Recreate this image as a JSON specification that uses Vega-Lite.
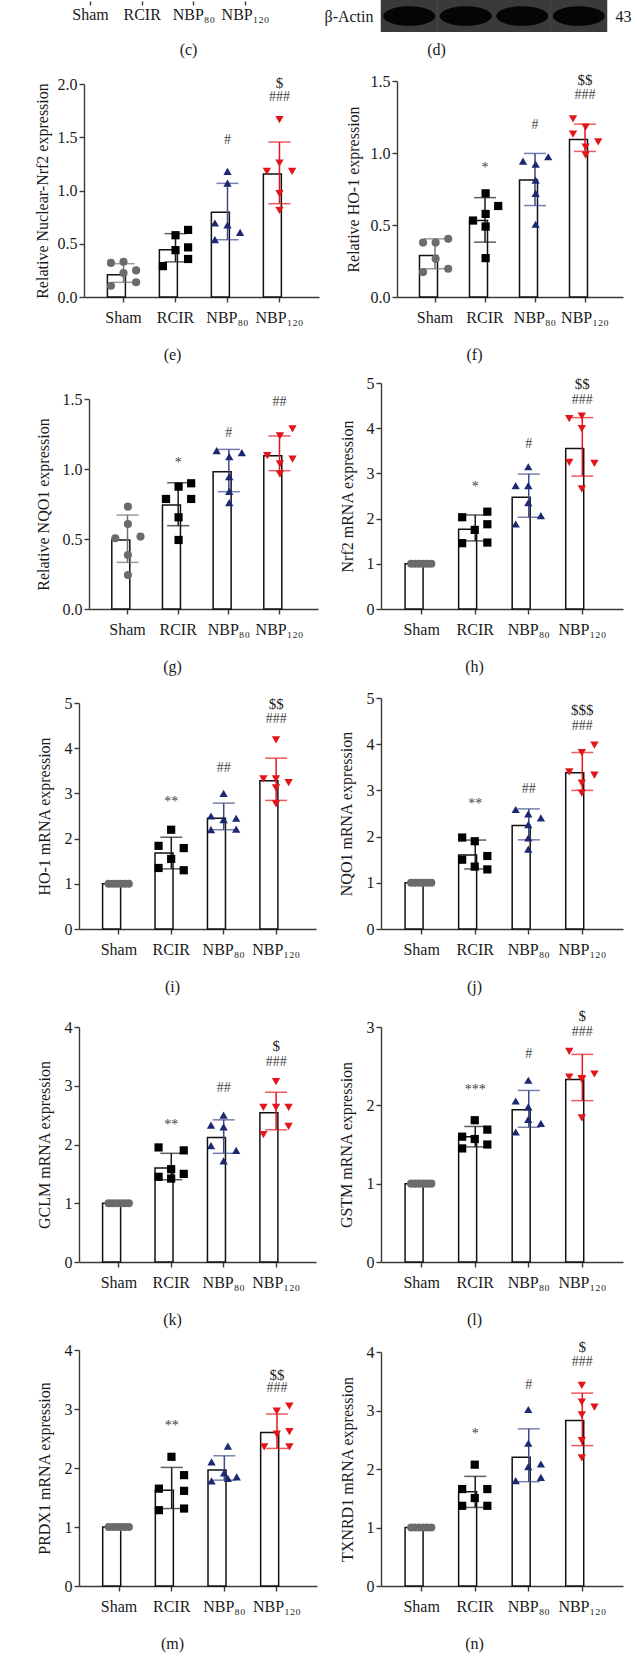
{
"$schema": "https://vega.github.io/schema/vega-lite/v6.json",
"background": "white",
"padding": {"left": 34, "top": 0, "right": 5, "bottom": 5},
"bounds": "flush",
"align": "each",
"columns": 2,
"spacing": {"row": 40, "column": 60},
"datasets": {
"bars": [
{"p":"e","g":"Sham","m":0.21,"lo":0.138,"hi":0.313},{"p":"e","g":"RCIR","m":0.444,"lo":0.33,"hi":0.595},{"p":"e","g":"NBP₈₀","m":0.795,"lo":0.538,"hi":1.067},{"p":"e","g":"NBP₁₂₀","m":1.155,"lo":0.876,"hi":1.455},
{"p":"f","g":"Sham","m":0.288,"lo":0.196,"hi":0.404},{"p":"f","g":"RCIR","m":0.531,"lo":0.381,"hi":0.69},{"p":"f","g":"NBP₈₀","m":0.812,"lo":0.635,"hi":0.997},{"p":"f","g":"NBP₁₂₀","m":1.094,"lo":1.011,"hi":1.2},
{"p":"g","g":"Sham","m":0.493,"lo":0.333,"hi":0.671},{"p":"g","g":"RCIR","m":0.743,"lo":0.595,"hi":0.902},{"p":"g","g":"NBP₈₀","m":0.981,"lo":0.838,"hi":1.14},{"p":"g","g":"NBP₁₂₀","m":1.095,"lo":0.988,"hi":1.236},
{"p":"h","g":"Sham","m":1,"lo":1,"hi":1},{"p":"h","g":"RCIR","m":1.765,"lo":1.507,"hi":2.08},{"p":"h","g":"NBP₈₀","m":2.47,"lo":2.03,"hi":2.985},{"p":"h","g":"NBP₁₂₀","m":3.55,"lo":2.94,"hi":4.235},
{"p":"i","g":"Sham","m":1,"lo":1,"hi":1},{"p":"i","g":"RCIR","m":1.68,"lo":1.33,"hi":2.03},{"p":"i","g":"NBP₈₀","m":2.45,"lo":2.196,"hi":2.785},{"p":"i","g":"NBP₁₂₀","m":3.28,"lo":2.845,"hi":3.78},
{"p":"j","g":"Sham","m":1,"lo":1,"hi":1},{"p":"j","g":"RCIR","m":1.6,"lo":1.3,"hi":1.925},{"p":"j","g":"NBP₈₀","m":2.24,"lo":1.93,"hi":2.6},{"p":"j","g":"NBP₁₂₀","m":3.38,"lo":3.0,"hi":3.82},
{"p":"k","g":"Sham","m":1,"lo":1,"hi":1},{"p":"k","g":"RCIR","m":1.6,"lo":1.4,"hi":1.85},{"p":"k","g":"NBP₈₀","m":2.12,"lo":1.85,"hi":2.42},{"p":"k","g":"NBP₁₂₀","m":2.54,"lo":2.25,"hi":2.89},
{"p":"l","g":"Sham","m":1,"lo":1,"hi":1},{"p":"l","g":"RCIR","m":1.6,"lo":1.47,"hi":1.73},{"p":"l","g":"NBP₈₀","m":1.945,"lo":1.72,"hi":2.19},{"p":"l","g":"NBP₁₂₀","m":2.33,"lo":2.06,"hi":2.65},
{"p":"m","g":"Sham","m":1,"lo":1,"hi":1},{"p":"m","g":"RCIR","m":1.624,"lo":1.313,"hi":2.01},{"p":"m","g":"NBP₈₀","m":1.964,"lo":1.794,"hi":2.207},{"p":"m","g":"NBP₁₂₀","m":2.603,"lo":2.332,"hi":2.915},
{"p":"n","g":"Sham","m":1,"lo":1,"hi":1},{"p":"n","g":"RCIR","m":1.61,"lo":1.343,"hi":1.874},{"p":"n","g":"NBP₈₀","m":2.2,"lo":1.783,"hi":2.686},{"p":"n","g":"NBP₁₂₀","m":2.829,"lo":2.4,"hi":3.297}
],
"pts": [
{"p":"e","g":"Sham","c":-1,"v":0.32},{"p":"e","g":"Sham","c":0,"v":0.33},{"p":"e","g":"Sham","c":0,"v":0.225},{"p":"e","g":"Sham","c":1,"v":0.25},{"p":"e","g":"Sham","c":-1,"v":0.106},{"p":"e","g":"Sham","c":1,"v":0.138},
{"p":"e","g":"RCIR","c":0,"v":0.58},{"p":"e","g":"RCIR","c":1,"v":0.63},{"p":"e","g":"RCIR","c":0,"v":0.44},{"p":"e","g":"RCIR","c":1,"v":0.466},{"p":"e","g":"RCIR","c":-1,"v":0.29},{"p":"e","g":"RCIR","c":1,"v":0.357},
{"p":"e","g":"NBP₈₀","c":0,"v":1.18},{"p":"e","g":"NBP₈₀","c":0,"v":1.07},{"p":"e","g":"NBP₈₀","c":-1,"v":0.695},{"p":"e","g":"NBP₈₀","c":0,"v":0.676},{"p":"e","g":"NBP₈₀","c":1,"v":0.607},{"p":"e","g":"NBP₈₀","c":-1,"v":0.538},
{"p":"e","g":"NBP₁₂₀","c":0,"v":1.665},{"p":"e","g":"NBP₁₂₀","c":-1,"v":1.18},{"p":"e","g":"NBP₁₂₀","c":0,"v":1.258},{"p":"e","g":"NBP₁₂₀","c":1,"v":1.18},{"p":"e","g":"NBP₁₂₀","c":0,"v":0.97},{"p":"e","g":"NBP₁₂₀","c":0,"v":0.814},
{"p":"f","g":"Sham","c":-1,"v":0.378},{"p":"f","g":"Sham","c":0,"v":0.378},{"p":"f","g":"Sham","c":1,"v":0.404},{"p":"f","g":"Sham","c":0,"v":0.265},{"p":"f","g":"Sham","c":-1,"v":0.173},{"p":"f","g":"Sham","c":1,"v":0.196},
{"p":"f","g":"RCIR","c":0,"v":0.72},{"p":"f","g":"RCIR","c":1,"v":0.632},{"p":"f","g":"RCIR","c":-1,"v":0.531},{"p":"f","g":"RCIR","c":0,"v":0.577},{"p":"f","g":"RCIR","c":0,"v":0.489},{"p":"f","g":"RCIR","c":0,"v":0.27},
{"p":"f","g":"NBP₈₀","c":-1,"v":0.944},{"p":"f","g":"NBP₈₀","c":1,"v":0.974},{"p":"f","g":"NBP₈₀","c":0,"v":0.923},{"p":"f","g":"NBP₈₀","c":0,"v":0.812},{"p":"f","g":"NBP₈₀","c":0,"v":0.72},{"p":"f","g":"NBP₈₀","c":0,"v":0.505},
{"p":"f","g":"NBP₁₂₀","c":-1,"v":1.237},{"p":"f","g":"NBP₁₂₀","c":0,"v":1.18},{"p":"f","g":"NBP₁₂₀","c":-1,"v":1.131},{"p":"f","g":"NBP₁₂₀","c":1,"v":1.078},{"p":"f","g":"NBP₁₂₀","c":0,"v":1.04},{"p":"f","g":"NBP₁₂₀","c":0,"v":0.985},
{"p":"g","g":"Sham","c":0,"v":0.731},{"p":"g","g":"Sham","c":0,"v":0.607},{"p":"g","g":"Sham","c":-1,"v":0.505},{"p":"g","g":"Sham","c":1,"v":0.517},{"p":"g","g":"Sham","c":0,"v":0.386},{"p":"g","g":"Sham","c":0,"v":0.243},
{"p":"g","g":"RCIR","c":0,"v":0.874},{"p":"g","g":"RCIR","c":1,"v":0.898},{"p":"g","g":"RCIR","c":-1,"v":0.786},{"p":"g","g":"RCIR","c":1,"v":0.786},{"p":"g","g":"RCIR","c":0,"v":0.655},{"p":"g","g":"RCIR","c":0,"v":0.493},
{"p":"g","g":"NBP₈₀","c":-1,"v":1.131},{"p":"g","g":"NBP₈₀","c":1,"v":1.117},{"p":"g","g":"NBP₈₀","c":0,"v":1.088},{"p":"g","g":"NBP₈₀","c":0,"v":0.945},{"p":"g","g":"NBP₈₀","c":0,"v":0.84},{"p":"g","g":"NBP₈₀","c":0,"v":0.76},
{"p":"g","g":"NBP₁₂₀","c":1,"v":1.286},{"p":"g","g":"NBP₁₂₀","c":0,"v":1.236},{"p":"g","g":"NBP₁₂₀","c":-1,"v":1.095},{"p":"g","g":"NBP₁₂₀","c":1,"v":1.071},{"p":"g","g":"NBP₁₂₀","c":0,"v":1.036},{"p":"g","g":"NBP₁₂₀","c":0,"v":0.964},
{"p":"h","g":"Sham","c":-0.8,"v":1},{"p":"h","g":"Sham","c":-0.48,"v":1},{"p":"h","g":"Sham","c":-0.16,"v":1},{"p":"h","g":"Sham","c":0.16,"v":1},{"p":"h","g":"Sham","c":0.48,"v":1},{"p":"h","g":"Sham","c":0.8,"v":1},
{"p":"h","g":"RCIR","c":-1,"v":2.03},{"p":"h","g":"RCIR","c":1,"v":2.154},{"p":"h","g":"RCIR","c":0,"v":1.75},{"p":"h","g":"RCIR","c":1,"v":1.875},{"p":"h","g":"RCIR","c":-1,"v":1.456},{"p":"h","g":"RCIR","c":1,"v":1.47},
{"p":"h","g":"NBP₈₀","c":0,"v":3.147},{"p":"h","g":"NBP₈₀","c":-1,"v":2.728},{"p":"h","g":"NBP₈₀","c":0,"v":2.728},{"p":"h","g":"NBP₈₀","c":0,"v":2.353},{"p":"h","g":"NBP₈₀","c":1,"v":2.066},{"p":"h","g":"NBP₈₀","c":-1,"v":1.88},
{"p":"h","g":"NBP₁₂₀","c":-1,"v":4.213},{"p":"h","g":"NBP₁₂₀","c":0,"v":4.265},{"p":"h","g":"NBP₁₂₀","c":0,"v":3.99},{"p":"h","g":"NBP₁₂₀","c":-1,"v":3.243},{"p":"h","g":"NBP₁₂₀","c":1,"v":3.22},{"p":"h","g":"NBP₁₂₀","c":0,"v":2.66},
{"p":"i","g":"Sham","c":-0.8,"v":1},{"p":"i","g":"Sham","c":-0.48,"v":1},{"p":"i","g":"Sham","c":-0.16,"v":1},{"p":"i","g":"Sham","c":0.16,"v":1},{"p":"i","g":"Sham","c":0.48,"v":1},{"p":"i","g":"Sham","c":0.8,"v":1},
{"p":"i","g":"RCIR","c":0,"v":2.196},{"p":"i","g":"RCIR","c":-1,"v":1.84},{"p":"i","g":"RCIR","c":1,"v":1.79},{"p":"i","g":"RCIR","c":0,"v":1.55},{"p":"i","g":"RCIR","c":-1,"v":1.35},{"p":"i","g":"RCIR","c":1,"v":1.3},
{"p":"i","g":"NBP₈₀","c":0,"v":3.0},{"p":"i","g":"NBP₈₀","c":-1,"v":2.5},{"p":"i","g":"NBP₈₀","c":1,"v":2.45},{"p":"i","g":"NBP₈₀","c":0,"v":2.42},{"p":"i","g":"NBP₈₀","c":-1,"v":2.2},{"p":"i","g":"NBP₈₀","c":1,"v":2.21},
{"p":"i","g":"NBP₁₂₀","c":0,"v":4.186},{"p":"i","g":"NBP₁₂₀","c":-1,"v":3.32},{"p":"i","g":"NBP₁₂₀","c":0,"v":3.32},{"p":"i","g":"NBP₁₂₀","c":1,"v":3.24},{"p":"i","g":"NBP₁₂₀","c":0,"v":3.12},{"p":"i","g":"NBP₁₂₀","c":0,"v":2.77},
{"p":"j","g":"Sham","c":-0.8,"v":1},{"p":"j","g":"Sham","c":-0.48,"v":1},{"p":"j","g":"Sham","c":-0.16,"v":1},{"p":"j","g":"Sham","c":0.16,"v":1},{"p":"j","g":"Sham","c":0.48,"v":1},{"p":"j","g":"Sham","c":0.8,"v":1},
{"p":"j","g":"RCIR","c":-1,"v":1.98},{"p":"j","g":"RCIR","c":0,"v":1.9},{"p":"j","g":"RCIR","c":1,"v":1.58},{"p":"j","g":"RCIR","c":-1,"v":1.5},{"p":"j","g":"RCIR","c":0,"v":1.35},{"p":"j","g":"RCIR","c":1,"v":1.29},
{"p":"j","g":"NBP₈₀","c":-1,"v":2.587},{"p":"j","g":"NBP₈₀","c":1,"v":2.405},{"p":"j","g":"NBP₈₀","c":0,"v":2.49},{"p":"j","g":"NBP₈₀","c":0,"v":2.26},{"p":"j","g":"NBP₈₀","c":0,"v":1.97},{"p":"j","g":"NBP₈₀","c":0,"v":1.73},
{"p":"j","g":"NBP₁₂₀","c":1,"v":3.98},{"p":"j","g":"NBP₁₂₀","c":0,"v":3.815},{"p":"j","g":"NBP₁₂₀","c":-1,"v":3.4},{"p":"j","g":"NBP₁₂₀","c":1,"v":3.33},{"p":"j","g":"NBP₁₂₀","c":0,"v":3.16},{"p":"j","g":"NBP₁₂₀","c":0,"v":2.94},
{"p":"k","g":"Sham","c":-0.8,"v":1},{"p":"k","g":"Sham","c":-0.48,"v":1},{"p":"k","g":"Sham","c":-0.16,"v":1},{"p":"k","g":"Sham","c":0.16,"v":1},{"p":"k","g":"Sham","c":0.48,"v":1},{"p":"k","g":"Sham","c":0.8,"v":1},
{"p":"k","g":"RCIR","c":-1,"v":1.95},{"p":"k","g":"RCIR","c":1,"v":1.9},{"p":"k","g":"RCIR","c":0,"v":1.58},{"p":"k","g":"RCIR","c":1,"v":1.5},{"p":"k","g":"RCIR","c":-1,"v":1.45},{"p":"k","g":"RCIR","c":0,"v":1.42},
{"p":"k","g":"NBP₈₀","c":0,"v":2.5},{"p":"k","g":"NBP₈₀","c":-1,"v":2.33},{"p":"k","g":"NBP₈₀","c":0,"v":2.3},{"p":"k","g":"NBP₈₀","c":-1,"v":1.98},{"p":"k","g":"NBP₈₀","c":1,"v":1.9},{"p":"k","g":"NBP₈₀","c":0,"v":1.72},
{"p":"k","g":"NBP₁₂₀","c":0,"v":3.07},{"p":"k","g":"NBP₁₂₀","c":-1,"v":2.63},{"p":"k","g":"NBP₁₂₀","c":0,"v":2.63},{"p":"k","g":"NBP₁₂₀","c":1,"v":2.63},{"p":"k","g":"NBP₁₂₀","c":1,"v":2.31},{"p":"k","g":"NBP₁₂₀","c":-1,"v":2.17},
{"p":"l","g":"Sham","c":-0.8,"v":1},{"p":"l","g":"Sham","c":-0.48,"v":1},{"p":"l","g":"Sham","c":-0.16,"v":1},{"p":"l","g":"Sham","c":0.16,"v":1},{"p":"l","g":"Sham","c":0.48,"v":1},{"p":"l","g":"Sham","c":0.8,"v":1},
{"p":"l","g":"RCIR","c":0,"v":1.81},{"p":"l","g":"RCIR","c":1,"v":1.69},{"p":"l","g":"RCIR","c":-1,"v":1.6},{"p":"l","g":"RCIR","c":0,"v":1.57},{"p":"l","g":"RCIR","c":1,"v":1.5},{"p":"l","g":"RCIR","c":-1,"v":1.45},
{"p":"l","g":"NBP₈₀","c":0,"v":2.32},{"p":"l","g":"NBP₈₀","c":-1,"v":2.055},{"p":"l","g":"NBP₈₀","c":0,"v":1.98},{"p":"l","g":"NBP₈₀","c":0,"v":1.82},{"p":"l","g":"NBP₈₀","c":1,"v":1.77},{"p":"l","g":"NBP₈₀","c":-1,"v":1.66},
{"p":"l","g":"NBP₁₂₀","c":-1,"v":2.69},{"p":"l","g":"NBP₁₂₀","c":-1,"v":2.36},{"p":"l","g":"NBP₁₂₀","c":0,"v":2.34},{"p":"l","g":"NBP₁₂₀","c":1,"v":2.4},{"p":"l","g":"NBP₁₂₀","c":0,"v":2.33},{"p":"l","g":"NBP₁₂₀","c":0,"v":1.84},
{"p":"m","g":"Sham","c":-0.8,"v":1},{"p":"m","g":"Sham","c":-0.48,"v":1},{"p":"m","g":"Sham","c":-0.16,"v":1},{"p":"m","g":"Sham","c":0.16,"v":1},{"p":"m","g":"Sham","c":0.48,"v":1},{"p":"m","g":"Sham","c":0.8,"v":1},
{"p":"m","g":"RCIR","c":0,"v":2.19},{"p":"m","g":"RCIR","c":1,"v":1.879},{"p":"m","g":"RCIR","c":-1,"v":1.65},{"p":"m","g":"RCIR","c":1,"v":1.613},{"p":"m","g":"RCIR","c":-1,"v":1.285},{"p":"m","g":"RCIR","c":1,"v":1.313},
{"p":"m","g":"NBP₈₀","c":0.3,"v":2.371},{"p":"m","g":"NBP₈₀","c":-1,"v":2.105},{"p":"m","g":"NBP₈₀","c":0,"v":1.918},{"p":"m","g":"NBP₈₀","c":1,"v":1.85},{"p":"m","g":"NBP₈₀","c":-1,"v":1.783},{"p":"m","g":"NBP₈₀","c":0.3,"v":1.822},
{"p":"m","g":"NBP₁₂₀","c":1,"v":3.05},{"p":"m","g":"NBP₁₂₀","c":0,"v":2.965},{"p":"m","g":"NBP₁₂₀","c":0,"v":2.575},{"p":"m","g":"NBP₁₂₀","c":1,"v":2.615},{"p":"m","g":"NBP₁₂₀","c":-1,"v":2.36},{"p":"m","g":"NBP₁₂₀","c":1,"v":2.36},
{"p":"n","g":"Sham","c":-0.8,"v":1},{"p":"n","g":"Sham","c":-0.48,"v":1},{"p":"n","g":"Sham","c":-0.16,"v":1},{"p":"n","g":"Sham","c":0.16,"v":1},{"p":"n","g":"Sham","c":0.48,"v":1},{"p":"n","g":"Sham","c":0.8,"v":1},
{"p":"n","g":"RCIR","c":0,"v":2.074},{"p":"n","g":"RCIR","c":-1,"v":1.657},{"p":"n","g":"RCIR","c":1,"v":1.657},{"p":"n","g":"RCIR","c":0,"v":1.503},{"p":"n","g":"RCIR","c":-1,"v":1.371},{"p":"n","g":"RCIR","c":1,"v":1.371},
{"p":"n","g":"NBP₈₀","c":0,"v":3.017},{"p":"n","g":"NBP₈₀","c":0,"v":2.44},{"p":"n","g":"NBP₈₀","c":-1,"v":1.8},{"p":"n","g":"NBP₈₀","c":0,"v":2.04},{"p":"n","g":"NBP₈₀","c":1,"v":2.086},{"p":"n","g":"NBP₈₀","c":1,"v":1.857},
{"p":"n","g":"NBP₁₂₀","c":0,"v":3.43},{"p":"n","g":"NBP₁₂₀","c":0,"v":3.143},{"p":"n","g":"NBP₁₂₀","c":1,"v":3.057},{"p":"n","g":"NBP₁₂₀","c":0,"v":2.926},{"p":"n","g":"NBP₁₂₀","c":0,"v":2.486},{"p":"n","g":"NBP₁₂₀","c":0,"v":2.189}
],
"ann": [
{"p":"e","g":"NBP₈₀","y":1.478,"t":"#"},{"p":"e","g":"NBP₁₂₀","y":1.88,"t":"###"},{"p":"e","g":"NBP₁₂₀","y":2.01,"t":"$"},
{"p":"f","g":"RCIR","y":0.893,"t":"*"},{"p":"f","g":"NBP₈₀","y":1.193,"t":"#"},{"p":"f","g":"NBP₁₂₀","y":1.4,"t":"###"},{"p":"f","g":"NBP₁₂₀","y":1.505,"t":"$$"},
{"p":"g","g":"RCIR","y":1.04,"t":"*"},{"p":"g","g":"NBP₈₀","y":1.26,"t":"#"},{"p":"g","g":"NBP₁₂₀","y":1.48,"t":"##"},
{"p":"h","g":"RCIR","y":2.71,"t":"*"},{"p":"h","g":"NBP₈₀","y":3.66,"t":"#"},{"p":"h","g":"NBP₁₂₀","y":4.62,"t":"###"},{"p":"h","g":"NBP₁₂₀","y":4.985,"t":"$$"},
{"p":"i","g":"RCIR","y":2.8,"t":"**"},{"p":"i","g":"NBP₈₀","y":3.56,"t":"##"},{"p":"i","g":"NBP₁₂₀","y":4.65,"t":"###"},{"p":"i","g":"NBP₁₂₀","y":4.98,"t":"$$"},
{"p":"j","g":"RCIR","y":2.7,"t":"**"},{"p":"j","g":"NBP₈₀","y":3.04,"t":"##"},{"p":"j","g":"NBP₁₂₀","y":4.4,"t":"###"},{"p":"j","g":"NBP₁₂₀","y":4.745,"t":"$$$"},
{"p":"k","g":"RCIR","y":2.34,"t":"**"},{"p":"k","g":"NBP₈₀","y":2.97,"t":"##"},{"p":"k","g":"NBP₁₂₀","y":3.41,"t":"###"},{"p":"k","g":"NBP₁₂₀","y":3.67,"t":"$"},
{"p":"l","g":"RCIR","y":2.19,"t":"***"},{"p":"l","g":"NBP₈₀","y":2.66,"t":"#"},{"p":"l","g":"NBP₁₂₀","y":2.94,"t":"###"},{"p":"l","g":"NBP₁₂₀","y":3.14,"t":"$"},
{"p":"m","g":"RCIR","y":2.71,"t":"**"},{"p":"m","g":"NBP₁₂₀","y":3.35,"t":"###"},{"p":"m","g":"NBP₁₂₀","y":3.577,"t":"$$"},
{"p":"n","g":"RCIR","y":2.6,"t":"*"},{"p":"n","g":"NBP₈₀","y":3.43,"t":"#"},{"p":"n","g":"NBP₁₂₀","y":3.83,"t":"###"},{"p":"n","g":"NBP₁₂₀","y":4.086,"t":"$"}
],
"blot": [
{"lane":"1","prot":"β-Actin","kda":"43"},{"lane":"2","prot":"β-Actin","kda":"43"},{"lane":"3","prot":"β-Actin","kda":"43"},{"lane":"4","prot":"β-Actin","kda":"43"}
]
},
"concat": [
{"width": 242, "height": 1, "data": {"name": "bars"}, "transform": [{"filter": "datum.p=='e'"}],
 "mark": {"type": "point", "opacity": 0, "size": 1},
 "encoding": {"x": {"field": "g", "type": "nominal", "sort": null, "title": "(c)",
   "scale": {"type": "point", "domain": ["Sham","RCIR","NBP₈₀","NBP₁₂₀"], "range": [11, 166], "padding": 0},
   "axis": {"domain": false, "ticks": true, "tickSize": 4, "labelPadding": 1, "titleX": 109, "titlePadding": 19}}}},
{"width": 226, "height": 32, "data": {"name": "blot"},
 "encoding": {"x": {"field": "lane", "type": "nominal", "title": "(d)", "scale": {"type": "band", "paddingInner": 0, "paddingOuter": 0}, "axis": {"labels": false, "ticks": false, "domain": false, "titleX": 55, "titlePadding": 9}}},
 "layer": [
  {"mark": {"type": "point", "shape": "M-1,-0.56H1V0.56H-1Z", "filled": true, "color": "#3a3a3a", "opacity": 1, "size": 3250},
   "encoding": {"y": {"field": "prot", "type": "nominal", "title": null, "axis": {"domain": false, "ticks": false, "labelPadding": 8, "labelFontSize": 16}}}},
  {"mark": {"type": "point", "shape": "M-1,0A1,0.38,0,1,0,1,0A1,0.38,0,1,0,-1,0Z", "filled": true, "color": "#050505", "opacity": 1, "size": 2700},
   "encoding": {"y": {"field": "prot", "type": "nominal", "title": null, "axis": null}}},
  {"mark": {"type": "point", "opacity": 0, "size": 1},
   "encoding": {"y": {"field": "kda", "type": "nominal", "title": null, "axis": {"orient": "right", "domain": false, "ticks": false, "labelPadding": 8, "labelFontSize": 16}}}}
 ],
 "resolve": {"scale": {"y": "independent"}, "axis": {"y": "independent"}}},

{"width": 242, "height": 225,
 "encoding": {"x": {"field": "g", "type": "nominal", "sort": null, "title": "(e)", "scale": {"domain": ["Sham","RCIR","NBP₈₀","NBP₁₂₀"], "range": [5, 240], "paddingInner": 0.38, "paddingOuter": 0.45}}},
 "layer": [
  {"data": {"name": "bars"}, "transform": [{"filter": "datum.p=='e'"}], "mark": {"type": "bar", "fill": "white", "stroke": "#111", "strokeWidth": 1.5},
   "encoding": {"y": {"field": "m", "type": "quantitative", "title": "Relative Nuclear-Nrf2 expression", "scale": {"domain": [0, 2], "range": [225, 12], "nice": false}, "axis": {"values": [0, 0.5, 1, 1.5, 2], "format": ".1f", "offset": -5, "titlePadding": 7}}}},
  {"data": {"name": "bars"}, "transform": [{"filter": "datum.p=='e'"}], "mark": {"type": "rule", "strokeWidth": 1.5},
   "encoding": {"y": {"field": "lo", "type": "quantitative", "title": "Relative Nuclear-Nrf2 expression"}, "y2": {"field": "hi"}, "stroke": {"field": "g", "type": "nominal", "legend": null, "scale": {"domain": ["Sham","RCIR","NBP₈₀","NBP₁₂₀"], "range": ["#707070","#1a1a1a","#3d4a8a","#e3151c"]}}}},
  {"data": {"name": "bars"}, "transform": [{"filter": "datum.p=='e'"}], "mark": {"type": "tick", "size": 22, "thickness": 1.5, "orient": "horizontal"},
   "encoding": {"y": {"field": "lo", "type": "quantitative", "title": "Relative Nuclear-Nrf2 expression"}, "fill": {"field": "g", "type": "nominal", "legend": null, "scale": {"domain": ["Sham","RCIR","NBP₈₀","NBP₁₂₀"], "range": ["#707070","#1a1a1a","#3d4a8a","#e3151c"]}}}},
  {"data": {"name": "bars"}, "transform": [{"filter": "datum.p=='e'"}], "mark": {"type": "tick", "size": 22, "thickness": 1.5, "orient": "horizontal"},
   "encoding": {"y": {"field": "hi", "type": "quantitative", "title": "Relative Nuclear-Nrf2 expression"}, "fill": {"field": "g", "type": "nominal", "legend": null}}},
  {"data": {"name": "pts"}, "transform": [{"filter": "datum.p=='e'"}], "mark": {"type": "point", "filled": true, "opacity": 1},
   "encoding": {"y": {"field": "v", "type": "quantitative", "title": "Relative Nuclear-Nrf2 expression"}, "xOffset": {"field": "c", "type": "quantitative", "scale": {"domain": [-1.28, 1.28]}},
    "color": {"field": "g", "type": "nominal", "legend": null, "scale": {"domain": ["Sham","RCIR","NBP₈₀","NBP₁₂₀"], "range": ["#6b6b6b","#000000","#1c2871","#e3151c"]}},
    "shape": {"field": "g", "type": "nominal", "legend": null, "scale": {"domain": ["Sham","RCIR","NBP₈₀","NBP₁₂₀"], "range": ["circle","square","triangle-up","triangle-down"]}},
    "size": {"field": "g", "type": "nominal", "legend": null, "scale": {"domain": ["Sham","RCIR","NBP₈₀","NBP₁₂₀"], "range": [66, 70, 85, 85]}}}},
  {"data": {"name": "ann"}, "transform": [{"filter": "datum.p=='e' && indexof(datum.t,'$')<0"}], "mark": {"type": "text", "fontSize": 14, "color": "#444", "baseline": "middle"},
   "encoding": {"y": {"field": "y", "type": "quantitative", "title": "Relative Nuclear-Nrf2 expression"}, "text": {"field": "t"}}},
  {"data": {"name": "ann"}, "transform": [{"filter": "datum.p=='e' && indexof(datum.t,'$')>=0"}], "mark": {"type": "text", "fontSize": 15, "color": "#222", "baseline": "middle"},
   "encoding": {"y": {"field": "y", "type": "quantitative", "title": "Relative Nuclear-Nrf2 expression"}, "text": {"field": "t"}}}
 ]},

{"width": 242, "height": 225,
 "encoding": {"x": {"field": "g", "type": "nominal", "sort": null, "title": "(f)", "scale": {"domain": ["Sham","RCIR","NBP₈₀","NBP₁₂₀"], "range": [16, 242], "paddingInner": 0.38, "paddingOuter": 0.45}}},
 "layer": [
  {"data": {"name": "bars"}, "transform": [{"filter": "datum.p=='f'"}], "mark": {"type": "bar", "fill": "white", "stroke": "#111", "strokeWidth": 1.5},
   "encoding": {"y": {"field": "m", "type": "quantitative", "title": "Relative HO-1 expression", "scale": {"domain": [0, 1.5], "range": [225, 9], "nice": false}, "axis": {"values": [0, 0.5, 1, 1.5], "format": ".1f", "offset": -16, "titlePadding": 9}}}},
  {"data": {"name": "bars"}, "transform": [{"filter": "datum.p=='f'"}], "mark": {"type": "rule", "strokeWidth": 1.5},
   "encoding": {"y": {"field": "lo", "type": "quantitative", "title": "Relative HO-1 expression"}, "y2": {"field": "hi"}, "stroke": {"field": "g", "type": "nominal", "legend": null, "scale": {"domain": ["Sham","RCIR","NBP₈₀","NBP₁₂₀"], "range": ["#707070","#1a1a1a","#3d4a8a","#e3151c"]}}}},
  {"data": {"name": "bars"}, "transform": [{"filter": "datum.p=='f'"}], "mark": {"type": "tick", "size": 22, "thickness": 1.5, "orient": "horizontal"},
   "encoding": {"y": {"field": "lo", "type": "quantitative", "title": "Relative HO-1 expression"}, "fill": {"field": "g", "type": "nominal", "legend": null, "scale": {"domain": ["Sham","RCIR","NBP₈₀","NBP₁₂₀"], "range": ["#707070","#1a1a1a","#3d4a8a","#e3151c"]}}}},
  {"data": {"name": "bars"}, "transform": [{"filter": "datum.p=='f'"}], "mark": {"type": "tick", "size": 22, "thickness": 1.5, "orient": "horizontal"},
   "encoding": {"y": {"field": "hi", "type": "quantitative", "title": "Relative HO-1 expression"}, "fill": {"field": "g", "type": "nominal", "legend": null}}},
  {"data": {"name": "pts"}, "transform": [{"filter": "datum.p=='f'"}], "mark": {"type": "point", "filled": true, "opacity": 1},
   "encoding": {"y": {"field": "v", "type": "quantitative", "title": "Relative HO-1 expression"}, "xOffset": {"field": "c", "type": "quantitative", "scale": {"domain": [-1.28, 1.28]}},
    "color": {"field": "g", "type": "nominal", "legend": null, "scale": {"domain": ["Sham","RCIR","NBP₈₀","NBP₁₂₀"], "range": ["#6b6b6b","#000000","#1c2871","#e3151c"]}},
    "shape": {"field": "g", "type": "nominal", "legend": null, "scale": {"domain": ["Sham","RCIR","NBP₈₀","NBP₁₂₀"], "range": ["circle","square","triangle-up","triangle-down"]}},
    "size": {"field": "g", "type": "nominal", "legend": null, "scale": {"domain": ["Sham","RCIR","NBP₈₀","NBP₁₂₀"], "range": [66, 70, 85, 85]}}}},
  {"data": {"name": "ann"}, "transform": [{"filter": "datum.p=='f' && indexof(datum.t,'$')<0"}], "mark": {"type": "text", "fontSize": 14, "color": "#444", "baseline": "middle"},
   "encoding": {"y": {"field": "y", "type": "quantitative", "title": "Relative HO-1 expression"}, "text": {"field": "t"}}},
  {"data": {"name": "ann"}, "transform": [{"filter": "datum.p=='f' && indexof(datum.t,'$')>=0"}], "mark": {"type": "text", "fontSize": 15, "color": "#222", "baseline": "middle"},
   "encoding": {"y": {"field": "y", "type": "quantitative", "title": "Relative HO-1 expression"}, "text": {"field": "t"}}}
 ]},

{"width": 242, "height": 272,
 "encoding": {"x": {"field": "g", "type": "nominal", "sort": null, "title": "(g)", "scale": {"domain": ["Sham","RCIR","NBP₈₀","NBP₁₂₀"], "range": [10, 239], "paddingInner": 0.38, "paddingOuter": 0.45}}},
 "layer": [
  {"data": {"name": "bars"}, "transform": [{"filter": "datum.p=='g'"}], "mark": {"type": "bar", "fill": "white", "stroke": "#111", "strokeWidth": 1.5},
   "encoding": {"y": {"field": "m", "type": "quantitative", "title": "Relative NQO1 expression", "scale": {"domain": [0, 1.5], "range": [272, 62], "nice": false}, "axis": {"values": [0, 0.5, 1, 1.5], "format": ".1f", "offset": -10, "titlePadding": 11}}}},
  {"data": {"name": "bars"}, "transform": [{"filter": "datum.p=='g'"}], "mark": {"type": "rule", "strokeWidth": 1.5},
   "encoding": {"y": {"field": "lo", "type": "quantitative", "title": "Relative NQO1 expression"}, "y2": {"field": "hi"}, "stroke": {"field": "g", "type": "nominal", "legend": null, "scale": {"domain": ["Sham","RCIR","NBP₈₀","NBP₁₂₀"], "range": ["#707070","#1a1a1a","#3d4a8a","#e3151c"]}}}},
  {"data": {"name": "bars"}, "transform": [{"filter": "datum.p=='g'"}], "mark": {"type": "tick", "size": 22, "thickness": 1.5, "orient": "horizontal"},
   "encoding": {"y": {"field": "lo", "type": "quantitative", "title": "Relative NQO1 expression"}, "fill": {"field": "g", "type": "nominal", "legend": null, "scale": {"domain": ["Sham","RCIR","NBP₈₀","NBP₁₂₀"], "range": ["#707070","#1a1a1a","#3d4a8a","#e3151c"]}}}},
  {"data": {"name": "bars"}, "transform": [{"filter": "datum.p=='g'"}], "mark": {"type": "tick", "size": 22, "thickness": 1.5, "orient": "horizontal"},
   "encoding": {"y": {"field": "hi", "type": "quantitative", "title": "Relative NQO1 expression"}, "fill": {"field": "g", "type": "nominal", "legend": null}}},
  {"data": {"name": "pts"}, "transform": [{"filter": "datum.p=='g'"}], "mark": {"type": "point", "filled": true, "opacity": 1},
   "encoding": {"y": {"field": "v", "type": "quantitative", "title": "Relative NQO1 expression"}, "xOffset": {"field": "c", "type": "quantitative", "scale": {"domain": [-1.28, 1.28]}},
    "color": {"field": "g", "type": "nominal", "legend": null, "scale": {"domain": ["Sham","RCIR","NBP₈₀","NBP₁₂₀"], "range": ["#6b6b6b","#000000","#1c2871","#e3151c"]}},
    "shape": {"field": "g", "type": "nominal", "legend": null, "scale": {"domain": ["Sham","RCIR","NBP₈₀","NBP₁₂₀"], "range": ["circle","square","triangle-up","triangle-down"]}},
    "size": {"field": "g", "type": "nominal", "legend": null, "scale": {"domain": ["Sham","RCIR","NBP₈₀","NBP₁₂₀"], "range": [66, 70, 85, 85]}}}},
  {"data": {"name": "ann"}, "transform": [{"filter": "datum.p=='g' && indexof(datum.t,'$')<0"}], "mark": {"type": "text", "fontSize": 14, "color": "#444", "baseline": "middle"},
   "encoding": {"y": {"field": "y", "type": "quantitative", "title": "Relative NQO1 expression"}, "text": {"field": "t"}}}
 ]},

{"width": 242, "height": 272,
 "encoding": {"x": {"field": "g", "type": "nominal", "sort": null, "title": "(h)", "scale": {"domain": ["Sham","RCIR","NBP₈₀","NBP₁₂₀"], "range": [0, 242], "paddingInner": 0.38, "paddingOuter": 0.45}}},
 "layer": [
  {"data": {"name": "bars"}, "transform": [{"filter": "datum.p=='h'"}], "mark": {"type": "bar", "fill": "white", "stroke": "#111", "strokeWidth": 1.5},
   "encoding": {"y": {"field": "m", "type": "quantitative", "title": "Nrf2 mRNA expression", "scale": {"domain": [0, 5], "range": [272, 46], "nice": false}, "axis": {"values": [0, 1, 2, 3, 4, 5], "format": "d", "titlePadding": 11}}}},
  {"data": {"name": "bars"}, "transform": [{"filter": "datum.p=='h'"}], "mark": {"type": "rule", "strokeWidth": 1.5},
   "encoding": {"y": {"field": "lo", "type": "quantitative", "title": "Nrf2 mRNA expression"}, "y2": {"field": "hi"}, "stroke": {"field": "g", "type": "nominal", "legend": null, "scale": {"domain": ["Sham","RCIR","NBP₈₀","NBP₁₂₀"], "range": ["#707070","#1a1a1a","#3d4a8a","#e3151c"]}}}},
  {"data": {"name": "bars"}, "transform": [{"filter": "datum.p=='h'"}], "mark": {"type": "tick", "size": 22, "thickness": 1.5, "orient": "horizontal"},
   "encoding": {"y": {"field": "lo", "type": "quantitative", "title": "Nrf2 mRNA expression"}, "fill": {"field": "g", "type": "nominal", "legend": null, "scale": {"domain": ["Sham","RCIR","NBP₈₀","NBP₁₂₀"], "range": ["#707070","#1a1a1a","#3d4a8a","#e3151c"]}}}},
  {"data": {"name": "bars"}, "transform": [{"filter": "datum.p=='h'"}], "mark": {"type": "tick", "size": 22, "thickness": 1.5, "orient": "horizontal"},
   "encoding": {"y": {"field": "hi", "type": "quantitative", "title": "Nrf2 mRNA expression"}, "fill": {"field": "g", "type": "nominal", "legend": null}}},
  {"data": {"name": "pts"}, "transform": [{"filter": "datum.p=='h'"}], "mark": {"type": "point", "filled": true, "opacity": 1},
   "encoding": {"y": {"field": "v", "type": "quantitative", "title": "Nrf2 mRNA expression"}, "xOffset": {"field": "c", "type": "quantitative", "scale": {"domain": [-1.28, 1.28]}},
    "color": {"field": "g", "type": "nominal", "legend": null, "scale": {"domain": ["Sham","RCIR","NBP₈₀","NBP₁₂₀"], "range": ["#6b6b6b","#000000","#1c2871","#e3151c"]}},
    "shape": {"field": "g", "type": "nominal", "legend": null, "scale": {"domain": ["Sham","RCIR","NBP₈₀","NBP₁₂₀"], "range": ["circle","square","triangle-up","triangle-down"]}},
    "size": {"field": "g", "type": "nominal", "legend": null, "scale": {"domain": ["Sham","RCIR","NBP₈₀","NBP₁₂₀"], "range": [66, 70, 85, 85]}}}},
  {"data": {"name": "ann"}, "transform": [{"filter": "datum.p=='h' && indexof(datum.t,'$')<0"}], "mark": {"type": "text", "fontSize": 14, "color": "#444", "baseline": "middle"},
   "encoding": {"y": {"field": "y", "type": "quantitative", "title": "Nrf2 mRNA expression"}, "text": {"field": "t"}}},
  {"data": {"name": "ann"}, "transform": [{"filter": "datum.p=='h' && indexof(datum.t,'$')>=0"}], "mark": {"type": "text", "fontSize": 15, "color": "#222", "baseline": "middle"},
   "encoding": {"y": {"field": "y", "type": "quantitative", "title": "Nrf2 mRNA expression"}, "text": {"field": "t"}}}
 ]},

{"width": 242, "height": 280,
 "encoding": {"x": {"field": "g", "type": "nominal", "sort": null, "title": "(i)", "scale": {"domain": ["Sham","RCIR","NBP₈₀","NBP₁₂₀"], "range": [0, 237], "paddingInner": 0.38, "paddingOuter": 0.45}}},
 "layer": [
  {"data": {"name": "bars"}, "transform": [{"filter": "datum.p=='i'"}], "mark": {"type": "bar", "fill": "white", "stroke": "#111", "strokeWidth": 1.5},
   "encoding": {"y": {"field": "m", "type": "quantitative", "title": "HO-1 mRNA expression", "scale": {"domain": [0, 5], "range": [280, 54], "nice": false}, "axis": {"values": [0, 1, 2, 3, 4, 5], "format": "d", "titlePadding": 12}}}},
  {"data": {"name": "bars"}, "transform": [{"filter": "datum.p=='i'"}], "mark": {"type": "rule", "strokeWidth": 1.5},
   "encoding": {"y": {"field": "lo", "type": "quantitative", "title": "HO-1 mRNA expression"}, "y2": {"field": "hi"}, "stroke": {"field": "g", "type": "nominal", "legend": null, "scale": {"domain": ["Sham","RCIR","NBP₈₀","NBP₁₂₀"], "range": ["#707070","#1a1a1a","#3d4a8a","#e3151c"]}}}},
  {"data": {"name": "bars"}, "transform": [{"filter": "datum.p=='i'"}], "mark": {"type": "tick", "size": 22, "thickness": 1.5, "orient": "horizontal"},
   "encoding": {"y": {"field": "lo", "type": "quantitative", "title": "HO-1 mRNA expression"}, "fill": {"field": "g", "type": "nominal", "legend": null, "scale": {"domain": ["Sham","RCIR","NBP₈₀","NBP₁₂₀"], "range": ["#707070","#1a1a1a","#3d4a8a","#e3151c"]}}}},
  {"data": {"name": "bars"}, "transform": [{"filter": "datum.p=='i'"}], "mark": {"type": "tick", "size": 22, "thickness": 1.5, "orient": "horizontal"},
   "encoding": {"y": {"field": "hi", "type": "quantitative", "title": "HO-1 mRNA expression"}, "fill": {"field": "g", "type": "nominal", "legend": null}}},
  {"data": {"name": "pts"}, "transform": [{"filter": "datum.p=='i'"}], "mark": {"type": "point", "filled": true, "opacity": 1},
   "encoding": {"y": {"field": "v", "type": "quantitative", "title": "HO-1 mRNA expression"}, "xOffset": {"field": "c", "type": "quantitative", "scale": {"domain": [-1.28, 1.28]}},
    "color": {"field": "g", "type": "nominal", "legend": null, "scale": {"domain": ["Sham","RCIR","NBP₈₀","NBP₁₂₀"], "range": ["#6b6b6b","#000000","#1c2871","#e3151c"]}},
    "shape": {"field": "g", "type": "nominal", "legend": null, "scale": {"domain": ["Sham","RCIR","NBP₈₀","NBP₁₂₀"], "range": ["circle","square","triangle-up","triangle-down"]}},
    "size": {"field": "g", "type": "nominal", "legend": null, "scale": {"domain": ["Sham","RCIR","NBP₈₀","NBP₁₂₀"], "range": [66, 70, 85, 85]}}}},
  {"data": {"name": "ann"}, "transform": [{"filter": "datum.p=='i' && indexof(datum.t,'$')<0"}], "mark": {"type": "text", "fontSize": 14, "color": "#444", "baseline": "middle"},
   "encoding": {"y": {"field": "y", "type": "quantitative", "title": "HO-1 mRNA expression"}, "text": {"field": "t"}}},
  {"data": {"name": "ann"}, "transform": [{"filter": "datum.p=='i' && indexof(datum.t,'$')>=0"}], "mark": {"type": "text", "fontSize": 15, "color": "#222", "baseline": "middle"},
   "encoding": {"y": {"field": "y", "type": "quantitative", "title": "HO-1 mRNA expression"}, "text": {"field": "t"}}}
 ]},

{"width": 242, "height": 280,
 "encoding": {"x": {"field": "g", "type": "nominal", "sort": null, "title": "(j)", "scale": {"domain": ["Sham","RCIR","NBP₈₀","NBP₁₂₀"], "range": [0, 242], "paddingInner": 0.38, "paddingOuter": 0.45}}},
 "layer": [
  {"data": {"name": "bars"}, "transform": [{"filter": "datum.p=='j'"}], "mark": {"type": "bar", "fill": "white", "stroke": "#111", "strokeWidth": 1.5},
   "encoding": {"y": {"field": "m", "type": "quantitative", "title": "NQO1 mRNA expression", "scale": {"domain": [0, 5], "range": [280, 49], "nice": false}, "axis": {"values": [0, 1, 2, 3, 4, 5], "format": "d", "titlePadding": 12}}}},
  {"data": {"name": "bars"}, "transform": [{"filter": "datum.p=='j'"}], "mark": {"type": "rule", "strokeWidth": 1.5},
   "encoding": {"y": {"field": "lo", "type": "quantitative", "title": "NQO1 mRNA expression"}, "y2": {"field": "hi"}, "stroke": {"field": "g", "type": "nominal", "legend": null, "scale": {"domain": ["Sham","RCIR","NBP₈₀","NBP₁₂₀"], "range": ["#707070","#1a1a1a","#3d4a8a","#e3151c"]}}}},
  {"data": {"name": "bars"}, "transform": [{"filter": "datum.p=='j'"}], "mark": {"type": "tick", "size": 22, "thickness": 1.5, "orient": "horizontal"},
   "encoding": {"y": {"field": "lo", "type": "quantitative", "title": "NQO1 mRNA expression"}, "fill": {"field": "g", "type": "nominal", "legend": null, "scale": {"domain": ["Sham","RCIR","NBP₈₀","NBP₁₂₀"], "range": ["#707070","#1a1a1a","#3d4a8a","#e3151c"]}}}},
  {"data": {"name": "bars"}, "transform": [{"filter": "datum.p=='j'"}], "mark": {"type": "tick", "size": 22, "thickness": 1.5, "orient": "horizontal"},
   "encoding": {"y": {"field": "hi", "type": "quantitative", "title": "NQO1 mRNA expression"}, "fill": {"field": "g", "type": "nominal", "legend": null}}},
  {"data": {"name": "pts"}, "transform": [{"filter": "datum.p=='j'"}], "mark": {"type": "point", "filled": true, "opacity": 1},
   "encoding": {"y": {"field": "v", "type": "quantitative", "title": "NQO1 mRNA expression"}, "xOffset": {"field": "c", "type": "quantitative", "scale": {"domain": [-1.28, 1.28]}},
    "color": {"field": "g", "type": "nominal", "legend": null, "scale": {"domain": ["Sham","RCIR","NBP₈₀","NBP₁₂₀"], "range": ["#6b6b6b","#000000","#1c2871","#e3151c"]}},
    "shape": {"field": "g", "type": "nominal", "legend": null, "scale": {"domain": ["Sham","RCIR","NBP₈₀","NBP₁₂₀"], "range": ["circle","square","triangle-up","triangle-down"]}},
    "size": {"field": "g", "type": "nominal", "legend": null, "scale": {"domain": ["Sham","RCIR","NBP₈₀","NBP₁₂₀"], "range": [66, 70, 85, 85]}}}},
  {"data": {"name": "ann"}, "transform": [{"filter": "datum.p=='j' && indexof(datum.t,'$')<0"}], "mark": {"type": "text", "fontSize": 14, "color": "#444", "baseline": "middle"},
   "encoding": {"y": {"field": "y", "type": "quantitative", "title": "NQO1 mRNA expression"}, "text": {"field": "t"}}},
  {"data": {"name": "ann"}, "transform": [{"filter": "datum.p=='j' && indexof(datum.t,'$')>=0"}], "mark": {"type": "text", "fontSize": 15, "color": "#222", "baseline": "middle"},
   "encoding": {"y": {"field": "y", "type": "quantitative", "title": "NQO1 mRNA expression"}, "text": {"field": "t"}}}
 ]},

{"width": 242, "height": 293,
 "encoding": {"x": {"field": "g", "type": "nominal", "sort": null, "title": "(k)", "scale": {"domain": ["Sham","RCIR","NBP₈₀","NBP₁₂₀"], "range": [0, 237], "paddingInner": 0.38, "paddingOuter": 0.45}}},
 "layer": [
  {"data": {"name": "bars"}, "transform": [{"filter": "datum.p=='k'"}], "mark": {"type": "bar", "fill": "white", "stroke": "#111", "strokeWidth": 1.5},
   "encoding": {"y": {"field": "m", "type": "quantitative", "title": "GCLM mRNA expression", "scale": {"domain": [0, 4], "range": [293, 58], "nice": false}, "axis": {"values": [0, 1, 2, 3, 4], "format": "d", "titlePadding": 12}}}},
  {"data": {"name": "bars"}, "transform": [{"filter": "datum.p=='k'"}], "mark": {"type": "rule", "strokeWidth": 1.5},
   "encoding": {"y": {"field": "lo", "type": "quantitative", "title": "GCLM mRNA expression"}, "y2": {"field": "hi"}, "stroke": {"field": "g", "type": "nominal", "legend": null, "scale": {"domain": ["Sham","RCIR","NBP₈₀","NBP₁₂₀"], "range": ["#707070","#1a1a1a","#3d4a8a","#e3151c"]}}}},
  {"data": {"name": "bars"}, "transform": [{"filter": "datum.p=='k'"}], "mark": {"type": "tick", "size": 22, "thickness": 1.5, "orient": "horizontal"},
   "encoding": {"y": {"field": "lo", "type": "quantitative", "title": "GCLM mRNA expression"}, "fill": {"field": "g", "type": "nominal", "legend": null, "scale": {"domain": ["Sham","RCIR","NBP₈₀","NBP₁₂₀"], "range": ["#707070","#1a1a1a","#3d4a8a","#e3151c"]}}}},
  {"data": {"name": "bars"}, "transform": [{"filter": "datum.p=='k'"}], "mark": {"type": "tick", "size": 22, "thickness": 1.5, "orient": "horizontal"},
   "encoding": {"y": {"field": "hi", "type": "quantitative", "title": "GCLM mRNA expression"}, "fill": {"field": "g", "type": "nominal", "legend": null}}},
  {"data": {"name": "pts"}, "transform": [{"filter": "datum.p=='k'"}], "mark": {"type": "point", "filled": true, "opacity": 1},
   "encoding": {"y": {"field": "v", "type": "quantitative", "title": "GCLM mRNA expression"}, "xOffset": {"field": "c", "type": "quantitative", "scale": {"domain": [-1.28, 1.28]}},
    "color": {"field": "g", "type": "nominal", "legend": null, "scale": {"domain": ["Sham","RCIR","NBP₈₀","NBP₁₂₀"], "range": ["#6b6b6b","#000000","#1c2871","#e3151c"]}},
    "shape": {"field": "g", "type": "nominal", "legend": null, "scale": {"domain": ["Sham","RCIR","NBP₈₀","NBP₁₂₀"], "range": ["circle","square","triangle-up","triangle-down"]}},
    "size": {"field": "g", "type": "nominal", "legend": null, "scale": {"domain": ["Sham","RCIR","NBP₈₀","NBP₁₂₀"], "range": [66, 70, 85, 85]}}}},
  {"data": {"name": "ann"}, "transform": [{"filter": "datum.p=='k' && indexof(datum.t,'$')<0"}], "mark": {"type": "text", "fontSize": 14, "color": "#444", "baseline": "middle"},
   "encoding": {"y": {"field": "y", "type": "quantitative", "title": "GCLM mRNA expression"}, "text": {"field": "t"}}},
  {"data": {"name": "ann"}, "transform": [{"filter": "datum.p=='k' && indexof(datum.t,'$')>=0"}], "mark": {"type": "text", "fontSize": 15, "color": "#222", "baseline": "middle"},
   "encoding": {"y": {"field": "y", "type": "quantitative", "title": "GCLM mRNA expression"}, "text": {"field": "t"}}}
 ]},

{"width": 242, "height": 293,
 "encoding": {"x": {"field": "g", "type": "nominal", "sort": null, "title": "(l)", "scale": {"domain": ["Sham","RCIR","NBP₈₀","NBP₁₂₀"], "range": [0, 242], "paddingInner": 0.38, "paddingOuter": 0.45}}},
 "layer": [
  {"data": {"name": "bars"}, "transform": [{"filter": "datum.p=='l'"}], "mark": {"type": "bar", "fill": "white", "stroke": "#111", "strokeWidth": 1.5},
   "encoding": {"y": {"field": "m", "type": "quantitative", "title": "GSTM mRNA expression", "scale": {"domain": [0, 3], "range": [293, 58], "nice": false}, "axis": {"values": [0, 1, 2, 3], "format": "d", "titlePadding": 12}}}},
  {"data": {"name": "bars"}, "transform": [{"filter": "datum.p=='l'"}], "mark": {"type": "rule", "strokeWidth": 1.5},
   "encoding": {"y": {"field": "lo", "type": "quantitative", "title": "GSTM mRNA expression"}, "y2": {"field": "hi"}, "stroke": {"field": "g", "type": "nominal", "legend": null, "scale": {"domain": ["Sham","RCIR","NBP₈₀","NBP₁₂₀"], "range": ["#707070","#1a1a1a","#3d4a8a","#e3151c"]}}}},
  {"data": {"name": "bars"}, "transform": [{"filter": "datum.p=='l'"}], "mark": {"type": "tick", "size": 22, "thickness": 1.5, "orient": "horizontal"},
   "encoding": {"y": {"field": "lo", "type": "quantitative", "title": "GSTM mRNA expression"}, "fill": {"field": "g", "type": "nominal", "legend": null, "scale": {"domain": ["Sham","RCIR","NBP₈₀","NBP₁₂₀"], "range": ["#707070","#1a1a1a","#3d4a8a","#e3151c"]}}}},
  {"data": {"name": "bars"}, "transform": [{"filter": "datum.p=='l'"}], "mark": {"type": "tick", "size": 22, "thickness": 1.5, "orient": "horizontal"},
   "encoding": {"y": {"field": "hi", "type": "quantitative", "title": "GSTM mRNA expression"}, "fill": {"field": "g", "type": "nominal", "legend": null}}},
  {"data": {"name": "pts"}, "transform": [{"filter": "datum.p=='l'"}], "mark": {"type": "point", "filled": true, "opacity": 1},
   "encoding": {"y": {"field": "v", "type": "quantitative", "title": "GSTM mRNA expression"}, "xOffset": {"field": "c", "type": "quantitative", "scale": {"domain": [-1.28, 1.28]}},
    "color": {"field": "g", "type": "nominal", "legend": null, "scale": {"domain": ["Sham","RCIR","NBP₈₀","NBP₁₂₀"], "range": ["#6b6b6b","#000000","#1c2871","#e3151c"]}},
    "shape": {"field": "g", "type": "nominal", "legend": null, "scale": {"domain": ["Sham","RCIR","NBP₈₀","NBP₁₂₀"], "range": ["circle","square","triangle-up","triangle-down"]}},
    "size": {"field": "g", "type": "nominal", "legend": null, "scale": {"domain": ["Sham","RCIR","NBP₈₀","NBP₁₂₀"], "range": [66, 70, 85, 85]}}}},
  {"data": {"name": "ann"}, "transform": [{"filter": "datum.p=='l' && indexof(datum.t,'$')<0"}], "mark": {"type": "text", "fontSize": 14, "color": "#444", "baseline": "middle"},
   "encoding": {"y": {"field": "y", "type": "quantitative", "title": "GSTM mRNA expression"}, "text": {"field": "t"}}},
  {"data": {"name": "ann"}, "transform": [{"filter": "datum.p=='l' && indexof(datum.t,'$')>=0"}], "mark": {"type": "text", "fontSize": 15, "color": "#222", "baseline": "middle"},
   "encoding": {"y": {"field": "y", "type": "quantitative", "title": "GSTM mRNA expression"}, "text": {"field": "t"}}}
 ]},

{"width": 242, "height": 284,
 "encoding": {"x": {"field": "g", "type": "nominal", "sort": null, "title": "(m)", "scale": {"domain": ["Sham","RCIR","NBP₈₀","NBP₁₂₀"], "range": [0, 238], "paddingInner": 0.38, "paddingOuter": 0.45}}},
 "layer": [
  {"data": {"name": "bars"}, "transform": [{"filter": "datum.p=='m'"}], "mark": {"type": "bar", "fill": "white", "stroke": "#111", "strokeWidth": 1.5},
   "encoding": {"y": {"field": "m", "type": "quantitative", "title": "PRDX1 mRNA expression", "scale": {"domain": [0, 4], "range": [284, 48], "nice": false}, "axis": {"values": [0, 1, 2, 3, 4], "format": "d", "titlePadding": 12}}}},
  {"data": {"name": "bars"}, "transform": [{"filter": "datum.p=='m'"}], "mark": {"type": "rule", "strokeWidth": 1.5},
   "encoding": {"y": {"field": "lo", "type": "quantitative", "title": "PRDX1 mRNA expression"}, "y2": {"field": "hi"}, "stroke": {"field": "g", "type": "nominal", "legend": null, "scale": {"domain": ["Sham","RCIR","NBP₈₀","NBP₁₂₀"], "range": ["#707070","#1a1a1a","#3d4a8a","#e3151c"]}}}},
  {"data": {"name": "bars"}, "transform": [{"filter": "datum.p=='m'"}], "mark": {"type": "tick", "size": 22, "thickness": 1.5, "orient": "horizontal"},
   "encoding": {"y": {"field": "lo", "type": "quantitative", "title": "PRDX1 mRNA expression"}, "fill": {"field": "g", "type": "nominal", "legend": null, "scale": {"domain": ["Sham","RCIR","NBP₈₀","NBP₁₂₀"], "range": ["#707070","#1a1a1a","#3d4a8a","#e3151c"]}}}},
  {"data": {"name": "bars"}, "transform": [{"filter": "datum.p=='m'"}], "mark": {"type": "tick", "size": 22, "thickness": 1.5, "orient": "horizontal"},
   "encoding": {"y": {"field": "hi", "type": "quantitative", "title": "PRDX1 mRNA expression"}, "fill": {"field": "g", "type": "nominal", "legend": null}}},
  {"data": {"name": "pts"}, "transform": [{"filter": "datum.p=='m'"}], "mark": {"type": "point", "filled": true, "opacity": 1},
   "encoding": {"y": {"field": "v", "type": "quantitative", "title": "PRDX1 mRNA expression"}, "xOffset": {"field": "c", "type": "quantitative", "scale": {"domain": [-1.28, 1.28]}},
    "color": {"field": "g", "type": "nominal", "legend": null, "scale": {"domain": ["Sham","RCIR","NBP₈₀","NBP₁₂₀"], "range": ["#6b6b6b","#000000","#1c2871","#e3151c"]}},
    "shape": {"field": "g", "type": "nominal", "legend": null, "scale": {"domain": ["Sham","RCIR","NBP₈₀","NBP₁₂₀"], "range": ["circle","square","triangle-up","triangle-down"]}},
    "size": {"field": "g", "type": "nominal", "legend": null, "scale": {"domain": ["Sham","RCIR","NBP₈₀","NBP₁₂₀"], "range": [66, 70, 85, 85]}}}},
  {"data": {"name": "ann"}, "transform": [{"filter": "datum.p=='m' && indexof(datum.t,'$')<0"}], "mark": {"type": "text", "fontSize": 14, "color": "#444", "baseline": "middle"},
   "encoding": {"y": {"field": "y", "type": "quantitative", "title": "PRDX1 mRNA expression"}, "text": {"field": "t"}}},
  {"data": {"name": "ann"}, "transform": [{"filter": "datum.p=='m' && indexof(datum.t,'$')>=0"}], "mark": {"type": "text", "fontSize": 15, "color": "#222", "baseline": "middle"},
   "encoding": {"y": {"field": "y", "type": "quantitative", "title": "PRDX1 mRNA expression"}, "text": {"field": "t"}}}
 ]},

{"width": 242, "height": 284,
 "encoding": {"x": {"field": "g", "type": "nominal", "sort": null, "title": "(n)", "scale": {"domain": ["Sham","RCIR","NBP₈₀","NBP₁₂₀"], "range": [0, 242], "paddingInner": 0.38, "paddingOuter": 0.45}}},
 "layer": [
  {"data": {"name": "bars"}, "transform": [{"filter": "datum.p=='n'"}], "mark": {"type": "bar", "fill": "white", "stroke": "#111", "strokeWidth": 1.5},
   "encoding": {"y": {"field": "m", "type": "quantitative", "title": "TXNRD1 mRNA expression", "scale": {"domain": [0, 4], "range": [284, 50], "nice": false}, "axis": {"values": [0, 1, 2, 3, 4], "format": "d", "titlePadding": 11}}}},
  {"data": {"name": "bars"}, "transform": [{"filter": "datum.p=='n'"}], "mark": {"type": "rule", "strokeWidth": 1.5},
   "encoding": {"y": {"field": "lo", "type": "quantitative", "title": "TXNRD1 mRNA expression"}, "y2": {"field": "hi"}, "stroke": {"field": "g", "type": "nominal", "legend": null, "scale": {"domain": ["Sham","RCIR","NBP₈₀","NBP₁₂₀"], "range": ["#707070","#1a1a1a","#3d4a8a","#e3151c"]}}}},
  {"data": {"name": "bars"}, "transform": [{"filter": "datum.p=='n'"}], "mark": {"type": "tick", "size": 22, "thickness": 1.5, "orient": "horizontal"},
   "encoding": {"y": {"field": "lo", "type": "quantitative", "title": "TXNRD1 mRNA expression"}, "fill": {"field": "g", "type": "nominal", "legend": null, "scale": {"domain": ["Sham","RCIR","NBP₈₀","NBP₁₂₀"], "range": ["#707070","#1a1a1a","#3d4a8a","#e3151c"]}}}},
  {"data": {"name": "bars"}, "transform": [{"filter": "datum.p=='n'"}], "mark": {"type": "tick", "size": 22, "thickness": 1.5, "orient": "horizontal"},
   "encoding": {"y": {"field": "hi", "type": "quantitative", "title": "TXNRD1 mRNA expression"}, "fill": {"field": "g", "type": "nominal", "legend": null}}},
  {"data": {"name": "pts"}, "transform": [{"filter": "datum.p=='n'"}], "mark": {"type": "point", "filled": true, "opacity": 1},
   "encoding": {"y": {"field": "v", "type": "quantitative", "title": "TXNRD1 mRNA expression"}, "xOffset": {"field": "c", "type": "quantitative", "scale": {"domain": [-1.28, 1.28]}},
    "color": {"field": "g", "type": "nominal", "legend": null, "scale": {"domain": ["Sham","RCIR","NBP₈₀","NBP₁₂₀"], "range": ["#6b6b6b","#000000","#1c2871","#e3151c"]}},
    "shape": {"field": "g", "type": "nominal", "legend": null, "scale": {"domain": ["Sham","RCIR","NBP₈₀","NBP₁₂₀"], "range": ["circle","square","triangle-up","triangle-down"]}},
    "size": {"field": "g", "type": "nominal", "legend": null, "scale": {"domain": ["Sham","RCIR","NBP₈₀","NBP₁₂₀"], "range": [66, 70, 85, 85]}}}},
  {"data": {"name": "ann"}, "transform": [{"filter": "datum.p=='n' && indexof(datum.t,'$')<0"}], "mark": {"type": "text", "fontSize": 14, "color": "#444", "baseline": "middle"},
   "encoding": {"y": {"field": "y", "type": "quantitative", "title": "TXNRD1 mRNA expression"}, "text": {"field": "t"}}},
  {"data": {"name": "ann"}, "transform": [{"filter": "datum.p=='n' && indexof(datum.t,'$')>=0"}], "mark": {"type": "text", "fontSize": 15, "color": "#222", "baseline": "middle"},
   "encoding": {"y": {"field": "y", "type": "quantitative", "title": "TXNRD1 mRNA expression"}, "text": {"field": "t"}}}
 ]}
],
"config": {
 "font": "Liberation Serif",
 "view": {"stroke": null},
 "axis": {"grid": false, "domainColor": "#3a3a3a", "domainWidth": 1.4, "tickColor": "#3a3a3a", "tickWidth": 1.4, "tickSize": 5,
   "labelFont": "Liberation Serif", "labelFontSize": 16, "labelColor": "#1a1a1a",
   "titleFont": "Liberation Serif", "titleFontSize": 16, "titleFontWeight": "normal", "titleColor": "#1a1a1a"},
 "axisX": {"labelAngle": 0, "labelPadding": 7, "titlePadding": 21, "titleX": 93, "titleAlign": "center"},
 "axisY": {"labelPadding": 2},
 "text": {"font": "Liberation Serif"}
}
}
